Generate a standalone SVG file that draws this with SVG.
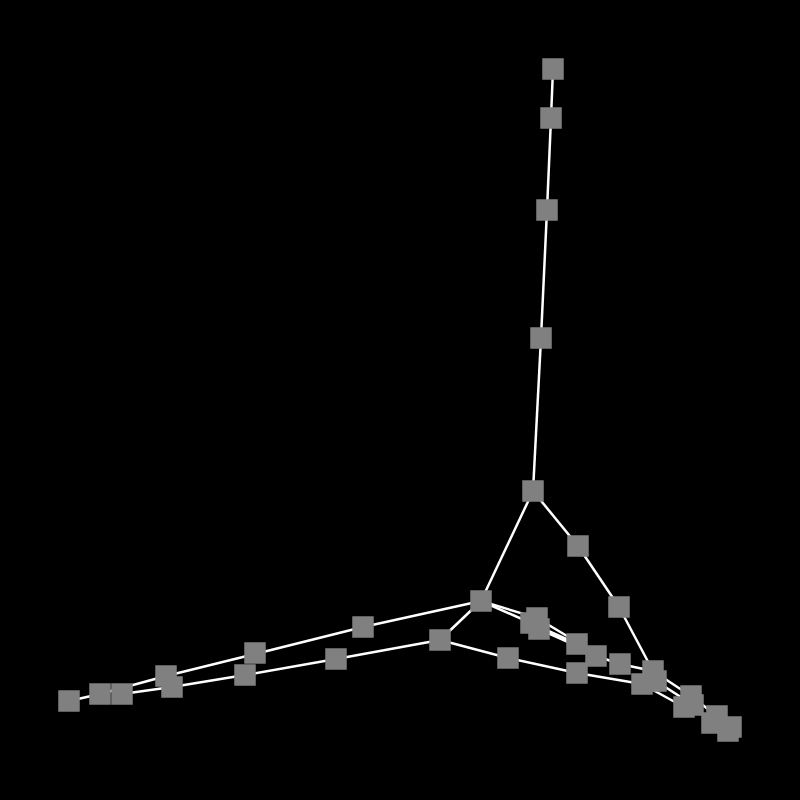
<svg xmlns="http://www.w3.org/2000/svg" width="800" height="800" viewBox="0 0 800 800">
<style>
.e{stroke:#fff;stroke-width:2.5;fill:none}
.n{fill:#808080;stroke:none}
</style>
<defs><rect id="sq" class="n" x="-10.75" y="-10.75" width="21.5" height="21.5"/></defs>
<rect width="800" height="800" fill="#000"/>
<g id="edges" class="e">
<line x1="553" y1="69" x2="551" y2="118"/>
<line x1="551" y1="118" x2="547" y2="210"/>
<line x1="547" y1="210" x2="541" y2="338"/>
<line x1="541" y1="338" x2="533" y2="491"/>
<line x1="533" y1="491" x2="481" y2="601"/>
<line x1="533" y1="491" x2="578" y2="546"/>
<line x1="578" y1="546" x2="619" y2="607"/>
<line x1="619" y1="607" x2="653" y2="671"/>
<line x1="481" y1="601" x2="440" y2="640"/>
<line x1="481" y1="601" x2="363" y2="627"/>
<line x1="363" y1="627" x2="255" y2="654"/>
<line x1="255" y1="654" x2="166" y2="676"/>
<line x1="166" y1="676" x2="100" y2="694"/>
<line x1="172" y1="687" x2="122" y2="694"/>
<line x1="100" y1="694" x2="69" y2="701"/>
<line x1="440" y1="640" x2="336" y2="659"/>
<line x1="336" y1="659" x2="245" y2="675"/>
<line x1="245" y1="675" x2="172" y2="687"/>
<line x1="440" y1="640" x2="508" y2="658"/>
<line x1="508" y1="658" x2="577" y2="673"/>
<line x1="577" y1="673" x2="642" y2="684"/>
<line x1="481" y1="601" x2="537" y2="618"/>
<line x1="481" y1="601" x2="531" y2="623"/>
<line x1="537" y1="618" x2="577" y2="642"/>
<line x1="531" y1="623" x2="577" y2="644"/>
<line x1="539" y1="629" x2="577" y2="646"/>
<line x1="577" y1="644" x2="596" y2="656"/>
<line x1="596" y1="656" x2="620" y2="664"/>
<line x1="620" y1="664" x2="653" y2="671"/>
<line x1="653" y1="671" x2="691" y2="696"/>
<line x1="656" y1="681" x2="693" y2="705"/>
<line x1="642" y1="684" x2="684" y2="707"/>
<line x1="691" y1="696" x2="717" y2="716"/>
<line x1="693" y1="705" x2="712" y2="723"/>
<line x1="717" y1="716" x2="731" y2="727"/>
<line x1="712" y1="723" x2="728" y2="731"/>
</g>
<g id="n1"><use href="#sq" x="553" y="69"/></g>
<g id="n2"><use href="#sq" x="551" y="118"/></g>
<g id="n3"><use href="#sq" x="547" y="210"/></g>
<g id="n4"><use href="#sq" x="541" y="338"/></g>
<g id="n5"><use href="#sq" x="533" y="491"/></g>
<g id="n6"><use href="#sq" x="578" y="546"/></g>
<g id="n7"><use href="#sq" x="619" y="607"/></g>
<g id="n8"><use href="#sq" x="481" y="601"/></g>
<g id="n9"><use href="#sq" x="440" y="640"/></g>
<g id="n10"><use href="#sq" x="363" y="627"/></g>
<g id="n11"><use href="#sq" x="255" y="653"/></g>
<g id="n12"><use href="#sq" x="166" y="676"/></g>
<g id="n13"><use href="#sq" x="172" y="687"/></g>
<g id="n14"><use href="#sq" x="336" y="659"/></g>
<g id="n15"><use href="#sq" x="245" y="675"/></g>
<g id="n16"><use href="#sq" x="122" y="694"/></g>
<g id="n17"><use href="#sq" x="100" y="694"/></g>
<g id="n18"><use href="#sq" x="69" y="701"/></g>
<g id="n19"><use href="#sq" x="508" y="658"/></g>
<g id="n20"><use href="#sq" x="577" y="673"/></g>
<g id="n21"><use href="#sq" x="537" y="618"/></g>
<g id="n22"><use href="#sq" x="531" y="623"/></g>
<g id="n23"><use href="#sq" x="539" y="629"/></g>
<g id="n24"><use href="#sq" x="577" y="644"/></g>
<g id="n25"><use href="#sq" x="596" y="656"/></g>
<g id="n26"><use href="#sq" x="620" y="664"/></g>
<g id="n27"><use href="#sq" x="653" y="671"/></g>
<g id="n28"><use href="#sq" x="656" y="681"/></g>
<g id="n29"><use href="#sq" x="642" y="684"/></g>
<g id="n30"><use href="#sq" x="691" y="696"/></g>
<g id="n31"><use href="#sq" x="693" y="705"/></g>
<g id="n32"><use href="#sq" x="684" y="707"/></g>
<g id="n33"><use href="#sq" x="717" y="716"/></g>
<g id="n34"><use href="#sq" x="712" y="723"/></g>
<g id="n35"><use href="#sq" x="731" y="727"/></g>
<g id="n36"><use href="#sq" x="728" y="731"/></g>
</svg>
